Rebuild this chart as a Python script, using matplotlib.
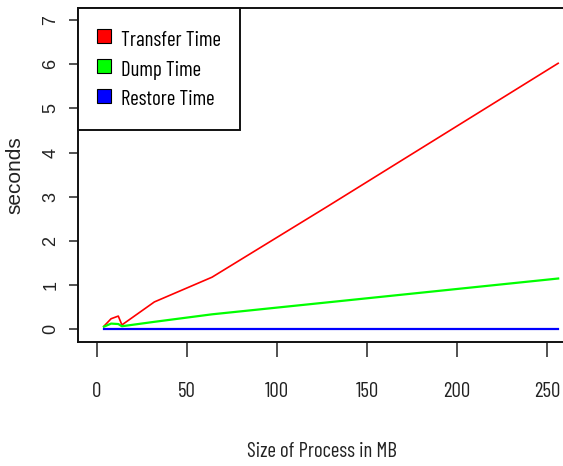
import matplotlib.pyplot as plt
from matplotlib.lines import Line2D

# process sizes (MB) and timings (seconds)
size_mb = [4, 8, 12, 14, 32, 64, 128, 256]
transfer_time = [0.07, 0.24, 0.30, 0.10, 0.62, 1.18, 2.78, 6.02]
dump_time = [0.06, 0.13, 0.12, 0.07, 0.17, 0.34, 0.61, 1.15]
restore_time = [0.0, 0.0, 0.0, 0.0, 0.0, 0.0, 0.0, 0.0]

labels = ['Transfer Time', 'Dump Time', 'Restore Time']
colors = ['#ff0000', '#00ff00', '#0000ff']
x_ticks = [0, 50, 100, 150, 200, 250]
y_ticks = [0, 1, 2, 3, 4, 5, 6, 7]

narrow = 'Barlow Condensed'
wide = 'Liberation Sans'

fig = plt.figure(figsize=(5.63, 4.66), dpi=100)
ax = fig.add_axes([0.1389, 0.2667, 0.8853, 0.717])

ax.plot(size_mb, transfer_time, color=colors[0], lw=1.2)
ax.plot(size_mb, dump_time, color=colors[1], lw=1.6)
ax.plot(size_mb, restore_time, color=colors[2], lw=1.6)

# R-style 4% padding around 0..256 and 0..7
ax.set_xlim(-10.24, 266.24)
ax.set_ylim(-0.28, 7.28)
ax.set_xticks(x_ticks, labels=[str(v) for v in x_ticks],
              fontfamily=narrow, fontsize=15, color='#222222')
ax.set_yticks(y_ticks, labels=[str(v) for v in y_ticks],
              fontfamily=wide, fontsize=13, color='#222222',
              rotation=90, va='center')

for s in ax.spines.values():
    s.set_linewidth(1.4)
    s.set_color('#111111')

ax.tick_params(axis='x', length=11, width=1.2, color='#333333', pad=18)
ax.tick_params(axis='y', length=6.5, width=1.2, color='#333333', pad=7)

ax.set_xlabel('Size of Process in MB', fontfamily=narrow, fontsize=15, color='#222222')
ax.xaxis.set_label_coords(0.4886, -0.300)
ax.set_ylabel('seconds', fontfamily=wide, fontsize=15, color='#222222')
ax.yaxis.set_label_coords(-0.108, 0.5)

# filled squares as legend keys
handles = [Line2D([], [], ls='none', marker='s', markersize=9.5,
                  markerfacecolor=c, markeredgecolor='black', markeredgewidth=0.8)
           for c in colors]
leg = ax.legend(handles, labels, loc='upper left', bbox_to_anchor=(0, 1),
                borderaxespad=0, fancybox=False, framealpha=1,
                edgecolor='#111111', prop={'family': narrow, 'size': 15},
                handlelength=0.62, handleheight=1.44, handletextpad=0.5,
                labelspacing=0.24, borderpad=0.92)
leg.get_frame().set_linewidth(1.4)

fig.savefig('out.png', dpi=100)
